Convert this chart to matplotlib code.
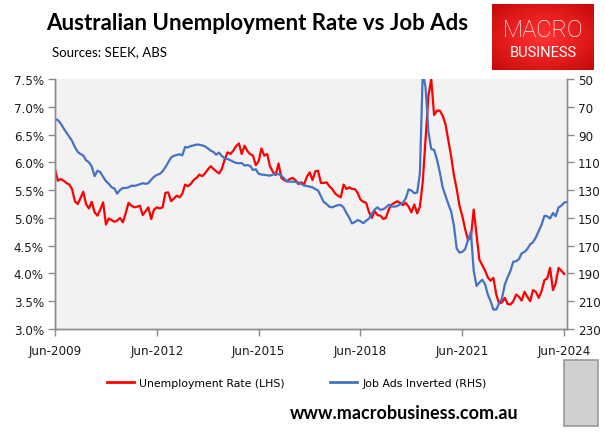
import numpy as np
import pandas as pd
import matplotlib
matplotlib.use('Agg')
import matplotlib.pyplot as plt
import matplotlib.dates as mdates
from matplotlib.lines import Line2D
from matplotlib.patches import Rectangle

# monthly, Jun-2009 onwards
unemployment = [
    5.88, 5.67, 5.70, 5.67, 5.63, 5.60, 5.52, 5.30, 5.25, 5.35, 5.47, 5.25,
    5.17, 5.29, 5.10, 5.04, 5.15, 5.28, 4.88, 4.99, 4.96, 4.93, 4.95, 5.00,
    4.92, 5.08, 5.27, 5.22, 5.19, 5.20, 5.22, 5.05, 5.12, 5.19, 4.98, 5.15,
    5.19, 5.17, 5.19, 5.45, 5.46, 5.30, 5.35, 5.40, 5.37, 5.43, 5.60, 5.57,
    5.61, 5.68, 5.72, 5.78, 5.75, 5.80, 5.87, 5.93, 5.88, 5.84, 5.80, 5.88,
    6.05, 6.18, 6.15, 6.21, 6.29, 6.34, 6.15, 6.30, 6.20, 6.15, 6.12, 5.95,
    6.02, 6.25, 6.12, 6.15, 5.93, 5.83, 5.77, 5.98, 5.72, 5.68, 5.66, 5.70,
    5.72, 5.68, 5.61, 5.64, 5.60, 5.74, 5.82, 5.68, 5.84, 5.85, 5.63, 5.63,
    5.64, 5.57, 5.52, 5.44, 5.40, 5.37, 5.60, 5.52, 5.55, 5.52, 5.52, 5.45,
    5.33, 5.29, 5.27, 5.10, 5.00, 5.12, 5.05, 5.04, 4.98, 5.00, 5.15, 5.24,
    5.27, 5.30, 5.27, 5.23, 5.27, 5.20, 5.10, 5.24, 5.08, 5.20, 5.65, 6.40,
    7.20, 7.50, 6.85, 6.93, 6.93, 6.84, 6.69, 6.40, 6.10, 5.78, 5.52, 5.22,
    5.03, 4.80, 4.60, 4.65, 5.15, 4.70, 4.25, 4.15, 4.05, 3.93, 3.87, 3.92,
    3.62, 3.46, 3.48, 3.56, 3.45, 3.44, 3.50, 3.62, 3.58, 3.51, 3.67, 3.58,
    3.50, 3.70, 3.67, 3.56, 3.68, 3.88, 3.91, 4.10, 3.70, 3.82, 4.10, 4.05, 3.99,
]

job_ads = [
    79, 79.5, 82, 85.5, 88.5, 91.5, 94.5, 99, 102.5, 104, 105, 108.5,
    110, 113, 120, 116, 117, 120.5, 123.5, 125.5, 128, 128.7, 132.5, 130,
    128.5, 128.5, 128, 126.8, 127, 126.5, 125.8, 125, 125.5, 125, 122.5, 120.5,
    119, 118.4, 116.5, 113.5, 110, 106.5, 105.3, 104.7, 104.2, 105, 99, 99.2,
    98.3, 97.8, 97.2, 97.3, 97.8, 98.5, 99.9, 101.6, 102.6, 104.5, 103, 105.5,
    107, 107.6, 108.5, 109.6, 110.4, 110.7, 110.5, 112.3, 112, 112.5, 115.5, 115,
    118.2, 118.8, 119, 119.3, 119.6, 118.8, 118.4, 118.4, 119.6, 121.5, 123.8, 123.9,
    123.9, 124.1, 124.5, 125.5, 126.7, 127, 127.5, 128, 129.3, 130.2, 134.5, 138.5,
    140, 142, 142.4, 141.5, 140.8, 140.7, 142.5, 146.5, 150, 154, 153, 151.6,
    152.4, 153.8, 152, 150.5, 147, 144, 142.4, 144.2, 143.8, 142.5, 140.5, 141.8,
    141.9, 141.5, 140.3, 139, 136, 129.5, 130.3, 132.2, 131.8, 118, 45, 56,
    88, 100.4, 101, 108, 117, 128, 134, 140, 145.5, 155, 172, 175,
    174.5, 172.5, 166, 160, 188, 199, 196.5, 194.5, 197.8, 205, 210, 216,
    216, 211.5, 208, 198, 192.8, 188, 181.5, 181.2, 179.6, 175.5, 174.5, 172.4,
    169, 167.6, 164, 159.5, 155, 148.5, 148.8, 150.5, 146.5, 148.8, 142.5, 141.2, 139, 138.5,
]

dates_u = pd.date_range('2009-06-01', periods=len(unemployment), freq='MS')
dates_j = pd.date_range('2009-06-01', periods=len(job_ads), freq='MS')
tick_years = [2009, 2012, 2015, 2018, 2021, 2024]

RED = '#FF0000'
BLUE = '#4472C4'
GREY = '#8C8C8C'
TXT = '#1a1a1a'

fig = plt.figure(figsize=(6.05, 4.35), dpi=100)
ax = fig.add_axes([55 / 605, 105 / 435, 512 / 605, 250 / 435])
ax.set_facecolor('#F2F2F2')
ax.plot(dates_u, unemployment, color=RED, lw=1.6)
ax.set_ylim(3.0, 7.5)
ax.set_yticks(np.arange(3.0, 7.51, 0.5))
ax.yaxis.set_major_formatter(plt.FuncFormatter(lambda v, p: f'{v:.1f}%'))
ax.set_xlim(pd.Timestamp('2009-06-01'), pd.Timestamp('2024-07-01'))
ax.set_xticks([pd.Timestamp(f'{y}-06-01') for y in tick_years])
ax.xaxis.set_major_formatter(mdates.DateFormatter('%b-%Y'))

ax2 = ax.twinx()
ax2.plot(dates_j, job_ads, color=BLUE, lw=1.6)
ax2.set_ylim(230, 50)
ax2.set_yticks(np.arange(50, 231, 20))

for a in (ax, ax2):
    a.spines['top'].set_visible(False)
    for s in ('left', 'right', 'bottom'):
        a.spines[s].set_color(GREY)
        a.spines[s].set_linewidth(1.0)
    a.tick_params(length=5, width=1.0, color=GREY, labelsize=8.6, labelcolor=TXT, pad=3)
ax.tick_params(axis='x', pad=6)

fig.text(257 / 605, 1 - 23 / 435, 'Australian Unemployment Rate vs Job Ads',
         ha='center', va='center', fontsize=16, fontweight='bold', family='Lato', color='black')
fig.text(52 / 605, 1 - 52 / 435, 'Sources: SEEK, ABS', ha='left', va='center',
         fontsize=9.5, family='Lato', color='black')

handles = [Line2D([], [], color=RED, lw=2), Line2D([], [], color=BLUE, lw=2)]
fig.legend(handles, ['Unemployment Rate (LHS)', 'Job Ads Inverted (RHS)'],
           loc='center', bbox_to_anchor=(297 / 605, 1 - 384 / 435), ncol=2, frameon=False,
           prop={'size': 7.8}, handlelength=2.5, handletextpad=0.5, columnspacing=4.2)

fig.text(404 / 605, 1 - 414 / 435, 'www.macrobusiness.com.au', ha='center', va='center',
         fontsize=13, fontweight='bold', family='Lato', color='black')

# logo box
lax = fig.add_axes([492 / 605, 1 - 71 / 435, 102 / 605, 66 / 435])
yy, xx = np.mgrid[-1:1:60j, -1:1:90j]
r = np.sqrt(xx ** 2 + yy ** 2)
lax.imshow(r, cmap=matplotlib.colors.LinearSegmentedColormap.from_list('lg', ['#FF3333', '#E81E1E', '#C40A0A']),
           aspect='auto', extent=(0, 1, 0, 1), vmin=0, vmax=1.4)
lax.set_axis_off()
lax.text(0.5, 0.61, 'MACRO', ha='center', va='center', color='white', fontsize=17,
         family='Roboto', fontweight='light', transform=lax.transAxes)
lax.text(0.5, 0.28, 'BUSINESS', ha='center', va='center', color='white', fontsize=10.5,
         family='Roboto', transform=lax.transAxes)

# wolf badge placeholder
fig.patches.append(Rectangle((564 / 605, 1 - 427 / 435), 34 / 605, 66 / 435, transform=fig.transFigure,
                             facecolor='#D0D0D0', edgecolor='#999999', lw=1.2))

fig.savefig('out.png', dpi=100)
